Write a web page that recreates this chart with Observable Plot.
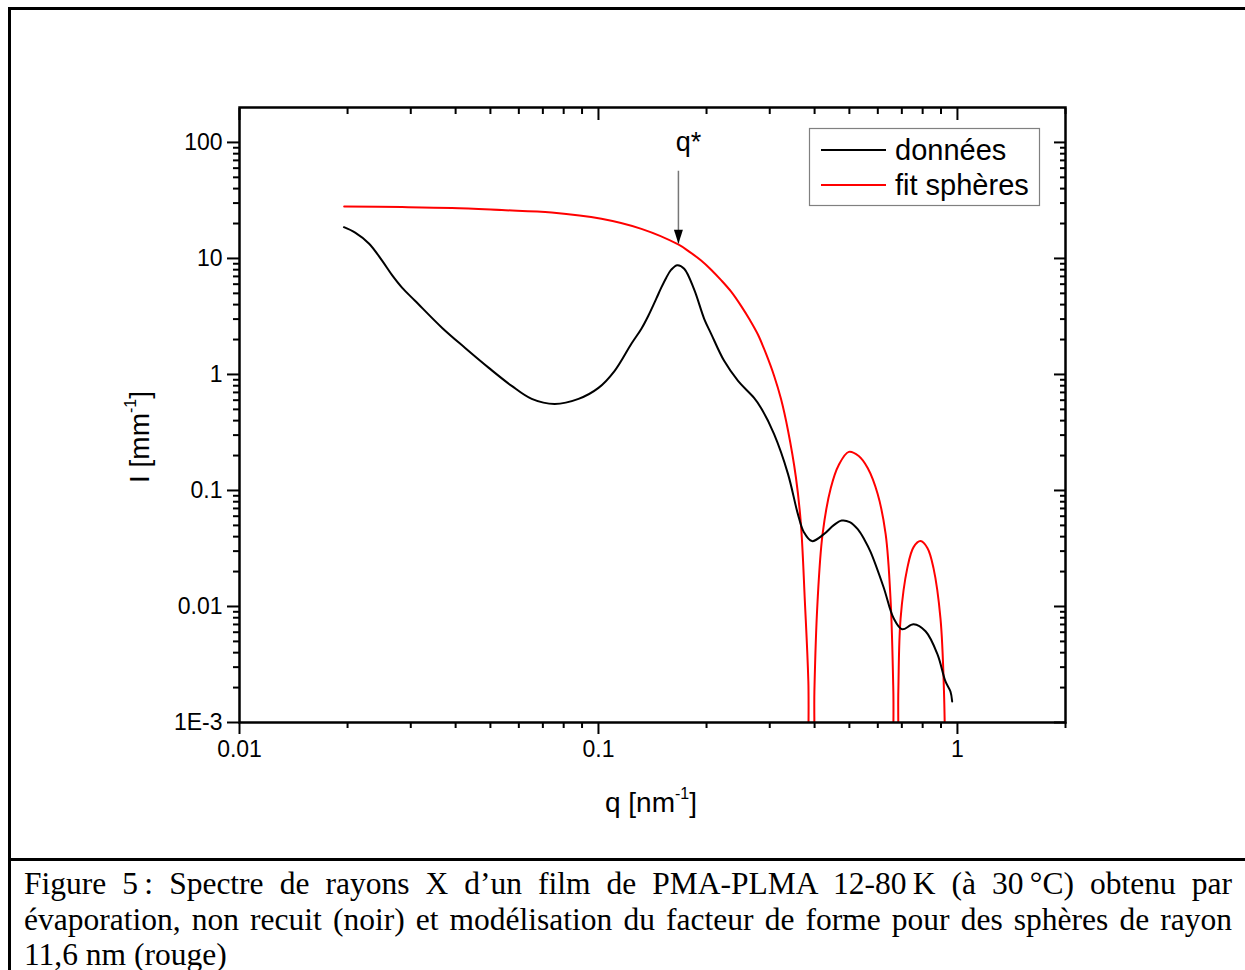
<!DOCTYPE html>
<html>
<head>
<meta charset="utf-8">
<script src="https://cdn.jsdelivr.net/npm/d3@7"></script>
<script src="https://cdn.jsdelivr.net/npm/@observablehq/plot@0.6"></script>
<style>
  html, body { margin: 0; padding: 0; background: #fff; }
  body { width: 1245px; height: 970px; overflow: hidden; position: relative; font-family: "Liberation Sans", Arial, sans-serif; }
  #frame { position: absolute; left: 8px; top: 7px; width: 1300px; height: 1100px; border: 3px solid #000; box-sizing: border-box; }
  #sep { position: absolute; left: 8px; top: 858px; width: 1300px; height: 3px; background: #000; }
  #chart { position: absolute; left: 0; top: 0; }
  #caption { position: absolute; left: 24px; top: 866px; width: 1208px; font-family: "Liberation Serif", "Times New Roman", serif; font-size: 31.5px; line-height: 35.5px; color: #000; }
  .j { text-align: justify; text-align-last: justify; }
  .l { text-align: left; }
</style>
</head>
<body>
<div id="frame"></div>
<div id="sep"></div>
<div id="chart"></div>
<div id="caption">
  <div class="j">Figure 5&#8239;: Spectre de rayons X d’un film de PMA-PLMA 12-80&#8239;K (à 30&#8239;°C) obtenu par</div>
  <div class="j">évaporation, non recuit (noir) et modélisation du facteur de forme pour des sphères de rayon</div>
  <div class="l">11,6 nm (rouge)</div>
</div>
<script>
// ---------- data ----------
const seriesNames = ["données", "fit sphères"];
const seriesColors = ["#000000", "#ff0000"];

// measured data (black)
const dataQ = [0.01954, 0.02100, 0.02297, 0.02496, 0.02661, 0.02836, 0.03083, 0.03664, 0.04244, 0.04949,
  0.05732, 0.06516, 0.07548, 0.08799, 0.1000, 0.1108, 0.1235, 0.1317, 0.1377, 0.1449,
  0.1496, 0.1545, 0.1595, 0.1658, 0.1733, 0.1848, 0.1970, 0.2060, 0.2239, 0.2448,
  0.2713, 0.2837, 0.3083, 0.3372, 0.3594, 0.3734, 0.3931, 0.4245, 0.4524, 0.4761,
  0.5012, 0.5275, 0.5517, 0.5732, 0.6227, 0.6642, 0.7012, 0.7548, 0.8149, 0.8799,
  0.9261, 0.9562, 0.9667];
const dataI = [18.6, 16.7, 13.4, 9.57, 7.17, 5.60, 4.32, 2.53, 1.70, 1.14,
  0.797, 0.616, 0.557, 0.616, 0.766, 1.07, 1.84, 2.48, 3.21, 4.50,
  5.60, 6.83, 8.00, 8.75, 8.16, 5.38, 3.02, 2.24, 1.31, 0.880,
  0.628, 0.515, 0.307, 0.139, 0.0625, 0.0437, 0.0366, 0.0420, 0.0503, 0.0550,
  0.0534, 0.0464, 0.0373, 0.0294, 0.01465, 0.00791, 0.00636, 0.00702, 0.00611, 0.00387,
  0.00226, 0.00185, 0.00152];

// sphere fit (red)
const fitQ = [0.01957, 0.02836, 0.03905, 0.05378, 0.07405, 0.1019, 0.1317, 0.1668, 0.1789, 0.1932,
  0.2060, 0.2196, 0.2342, 0.2496, 0.2644, 0.2783, 0.2929, 0.3083, 0.3224, 0.3372,
  0.3548, 0.3664, 0.3758, 0.3843, 0.3906, 0.3956,
  0.3995, 0.4077, 0.4210, 0.4438, 0.4671, 0.4981, 0.5309, 0.5623, 0.5995, 0.6310,
  0.6515, 0.6629, 0.6706, 0.6770, 0.6844, 0.6945, 0.7250, 0.7548, 0.7893, 0.8254,
  0.8577, 0.8969, 0.9173, 0.9291];
const fitI = [28.0, 27.7, 27.2, 26.1, 24.9, 22.0, 18.0, 13.2, 11.45, 9.6,
  8.00, 6.5, 5.17, 3.90, 2.93, 2.20, 1.51, 0.98, 0.616, 0.330,
  0.130, 0.0513, 0.0111, 0.00226, 0.0001, 0.0001,
  0.00185, 0.0111, 0.0420, 0.105, 0.166, 0.215, 0.198, 0.156, 0.0931, 0.0420,
  0.0111, 0.00185, 0.0001, 0.0001, 0.00185, 0.00791, 0.0214, 0.0325, 0.0366, 0.0318,
  0.0214, 0.00791, 0.00185, 0.0001];

// axes
const xMajor = [0.01, 0.1, 1];
const xTickLabels = ["0.01", "0.1", "1"];
const xMinor = [0.02, 0.03, 0.04, 0.05, 0.06, 0.07, 0.08, 0.09, 0.2, 0.3, 0.4, 0.5, 0.6, 0.7, 0.8, 0.9, 2];
const yMajor = [0.001, 0.01, 0.1, 1, 10, 100];
const yTickLabels = ["1E-3", "0.01", "0.1", "1", "10", "100"];
const yMinor = [0.002, 0.003, 0.004, 0.005, 0.006, 0.007, 0.008, 0.009,
  0.02, 0.03, 0.04, 0.05, 0.06, 0.07, 0.08, 0.09,
  0.2, 0.3, 0.4, 0.5, 0.6, 0.7, 0.8, 0.9,
  2, 3, 4, 5, 6, 7, 8, 9,
  20, 30, 40, 50, 60, 70, 80, 90];
const xTitle = ["q [nm", "-1", "]"];
const yTitle = ["I [mm", "-1", "]"];

// annotation q*
const annot = [{q: 0.167, from: 57, to: 13.4, label: "q*", labelI: 100}];

// ---------- build ----------
const dataRows = dataQ.map((q, i) => ({q, I: dataI[i]}));
const fitRows = fitQ.map((q, i) => ({q, I: fitI[i]}));

const arrowHead = {
  draw(context) {
    context.moveTo(0, 0);
    context.lineTo(-4.5, -14);
    context.lineTo(4.5, -14);
    context.closePath();
  }
};

const tickCommon = {strokeWidth: 2, label: null, tickFormat: () => ""};

const chart = Plot.plot({
  width: 1245,
  height: 860,
  marginLeft: 239,
  marginRight: 180,
  marginTop: 107,
  marginBottom: 138,
  style: {background: "transparent", fontFamily: "'Liberation Sans', Arial, sans-serif", fontSize: "23px", color: "#000", overflow: "visible"},
  x: {type: "log", domain: [0.01, 2]},
  y: {type: "log", domain: [0.001, 200]},
  marks: [
    Plot.line(fitRows, {x: "q", y: "I", stroke: seriesColors[1], strokeWidth: 2, curve: "catmull-rom", clip: true}),
    Plot.line(dataRows, {x: "q", y: "I", stroke: seriesColors[0], strokeWidth: 2, curve: "catmull-rom", clip: true}),
    // bottom axis (outward ticks)
    Plot.axisX(xMinor, {anchor: "bottom", tickSize: 6, ...tickCommon}),
    Plot.axisX(xMajor, {anchor: "bottom", tickSize: 12, tickPadding: 6, strokeWidth: 2, label: null, fontSize: 23,
      tickFormat: d => xTickLabels[xMajor.indexOf(d)]}),
    // top axis (inward ticks)
    Plot.axisX(xMinor, {anchor: "top", tickSize: 6, dy: 6, ...tickCommon}),
    Plot.axisX(xMajor, {anchor: "top", tickSize: 12, dy: 12, ...tickCommon}),
    // left axis (outward ticks)
    Plot.axisY(yMinor, {anchor: "left", tickSize: 6, ...tickCommon}),
    Plot.axisY(yMajor, {anchor: "left", tickSize: 12, tickPadding: 5, strokeWidth: 2, label: null, fontSize: 23,
      tickFormat: d => yTickLabels[yMajor.indexOf(d)]}),
    // right axis (inward ticks)
    Plot.axisY(yMinor, {anchor: "right", tickSize: 6, dx: -6, ...tickCommon}),
    Plot.axisY(yMajor, {anchor: "right", tickSize: 12, dx: -12, ...tickCommon}),
    Plot.frame({stroke: "#000", strokeWidth: 2.5}),
    // q* annotation
    Plot.link(annot, {x1: "q", x2: "q", y1: "from", y2: "to", stroke: "#777", strokeWidth: 1.5}),
    Plot.dot(annot, {x: "q", y: "to", symbol: arrowHead, fill: "#000", stroke: null, r: 5}),
    Plot.text(annot, {x: "q", y: "labelI", text: "label", dx: 10, fontSize: 27, textAnchor: "middle", fill: "#000"})
  ]
});
document.getElementById("chart").appendChild(chart);

// ---------- titles and legend ----------
const svg = d3.select(chart);
const deco = svg.append("g").attr("fill", "#000").style("font-family", "'Liberation Sans', Arial, sans-serif");

const xt = deco.append("text").attr("x", 651).attr("y", 812).attr("text-anchor", "middle").attr("font-size", 28);
xt.append("tspan").text(xTitle[0]);
xt.append("tspan").attr("font-size", 16).attr("dy", -13).text(xTitle[1]);
xt.append("tspan").attr("dy", 13).text(xTitle[2]);

const yt = deco.append("text").attr("transform", "translate(149,437) rotate(-90)").attr("text-anchor", "middle").attr("font-size", 28);
yt.append("tspan").text(yTitle[0]);
yt.append("tspan").attr("font-size", 16).attr("dy", -13).text(yTitle[1]);
yt.append("tspan").attr("dy", 13).text(yTitle[2]);

const lg = deco.append("g");
lg.append("rect").attr("x", 809.5).attr("y", 128.5).attr("width", 230).attr("height", 77)
  .attr("fill", "#fff").attr("stroke", "#808080").attr("stroke-width", 1.2);
seriesNames.forEach((name, i) => {
  const cy = 150 + i * 35;
  lg.append("line").attr("x1", 821).attr("x2", 886).attr("y1", cy).attr("y2", cy)
    .attr("stroke", seriesColors[i]).attr("stroke-width", 2);
  lg.append("text").attr("x", 895).attr("y", cy + 10).attr("text-anchor", "start").attr("font-size", 29).text(name);
});
</script>
</body>
</html>
